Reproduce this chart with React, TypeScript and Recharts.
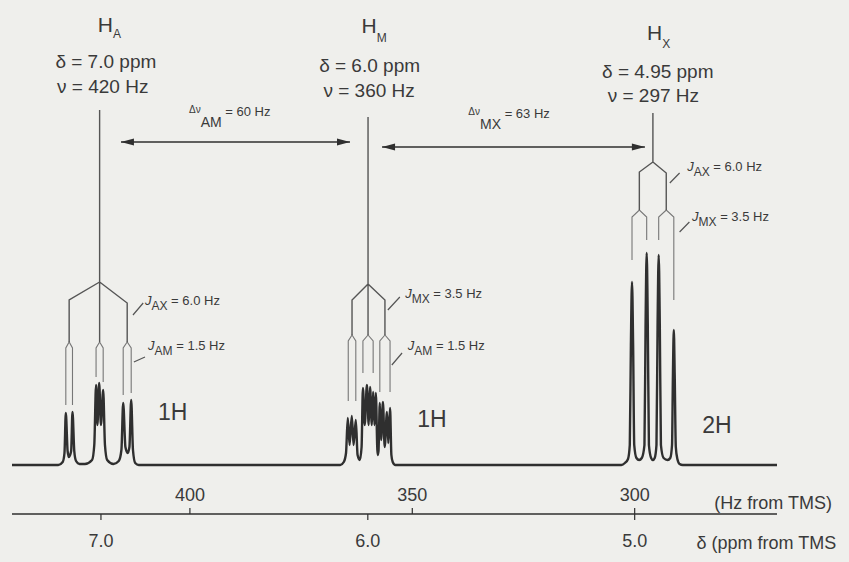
import { LineChart, Line, XAxis, YAxis, ReferenceDot } from "recharts"

const INK = "#2f2f2f"
const TREE = "#555"
const TEXT = "#3a3a3a"
const PAPER = "#efefec"
const FONT = "'Liberation Sans', Arial, sans-serif"

// spectrum: Hz from TMS vs. line height above the baseline
const hzA = [429.6, 428.6, 428.2, 427.9, 427.5, 427.2, 426.7, 426.4, 426.0, 425.6, 424.8, 423.6, 422.0, 421.5, 421.1, 420.8, 420.4, 420.0, 419.5, 419.1, 418.6, 417.2, 416.0, 415.4, 415.0, 414.5, 414.0, 413.6, 413.2, 412.8, 412.3, 411.5]
const intA = [0, 3, 12, 52, 14, 8, 14, 53, 14, 4, 1, 1, 5, 20, 80, 40, 82, 40, 75, 20, 5, 1, 4, 15, 62, 18, 12, 18, 65, 15, 2, 0]

const hzM = [366.2, 365.4, 364.9, 364.5, 364.1, 363.6, 363.2, 362.7, 362.3, 361.8, 361.4, 361.1, 360.7, 360.2, 359.8, 359.5, 359.1, 358.8, 358.5, 358.2, 357.8, 357.6, 357.3, 357.0, 356.6, 356.2, 355.7, 355.4, 355.0, 354.7, 354.4, 353.8]
const intM = [0, 3, 12, 47, 20, 49, 20, 45, 10, 5, 18, 77, 40, 80, 40, 78, 40, 73, 40, 72, 10, 14, 62, 25, 63, 18, 53, 22, 57, 10, 3, 0]

const hzX = [303.0, 302.2, 301.5, 301.1, 300.85, 300.6, 300.35, 300.1, 299.6, 299.0, 298.4, 297.8, 297.55, 297.3, 297.05, 296.8, 296.3, 295.9, 295.5, 295.1, 294.85, 294.6, 294.35, 294.1, 293.5, 292.6, 292.0, 291.6, 291.4, 291.2, 291.0, 290.75, 290.4, 289.9, 289.2]
const intX = [0, 2, 6, 20, 120, 183, 120, 20, 7, 5, 7, 20, 140, 212, 140, 20, 7, 5, 7, 20, 140, 210, 140, 20, 7, 5, 7, 20, 90, 135, 90, 18, 6, 1, 0]

const hzEnds = [440, 268]

// splitting trees [Hz, height]
const treeA = [
  [[420.3, 355], [420.3, 123]],
  [[420.3, 183], [427.15, 165], [427.15, 123]],
  [[420.3, 183], [414.1, 162], [414.1, 123]],
]
const leavesA = [
  [[427.9, 60], [427.9, 117], [427.15, 123], [426.4, 117], [426.4, 60]],
  [[421.1, 88], [421.1, 117], [420.3, 123], [419.5, 117], [419.5, 83]],
  [[415.0, 70], [415.0, 117], [414.1, 123], [413.2, 117], [413.2, 72]],
]
const treeM = [
  [[359.95, 348], [359.95, 130]],
  [[359.95, 181], [363.55, 165], [363.55, 130]],
  [[359.95, 181], [356.15, 165], [356.15, 130]],
]
const leavesM = [
  [[364.4, 64], [364.4, 124], [363.55, 130], [362.7, 124], [362.7, 64]],
  [[361.1, 92], [361.1, 124], [359.95, 130], [358.8, 124], [358.8, 92]],
  [[357.3, 73], [357.3, 124], [356.15, 130], [355.0, 124], [355.0, 73]],
]
const treeX = [
  [[295.9, 352], [295.9, 303]],
  [[295.9, 303], [298.95, 293], [298.95, 255]],
  [[295.9, 303], [292.9, 292], [292.9, 255]],
]
const leavesX = [
  [[300.6, 205], [300.6, 248], [298.95, 255], [297.3, 248], [297.3, 225]],
  [[294.6, 225], [294.6, 248], [292.9, 255], [291.2, 248], [291.2, 165]],
]
const leaders = [
  [[410.5, 162], [412.8, 150]],
  [[410.1, 108], [412.6, 103]],
  [[352.8, 168], [355.5, 155]],
  [[352.3, 112], [354.6, 100]],
  [[289.9, 292], [292.1, 282]],
  [[287.7, 243], [289.9, 233]],
]

// chemical shift differences
const arrowAM = [[415.5, 323], [364.0, 323]]
const arrowMX = [[356.8, 318], [297.7, 318]]

const hzTicks = [400, 350, 300]
const ppmTicks = [420, 360, 300] // 7.0, 6.0, 5.0 ppm (60 MHz)
const allTicks = [420, 400, 360, 350, 300]

const spectrum = [
  { hz: hzEnds[0], v: 0 },
  ...hzA.map((hz, i) => ({ hz, v: intA[i] })),
  ...hzM.map((hz, i) => ({ hz, v: intM[i] })),
  ...hzX.map((hz, i) => ({ hz, v: intX[i] })),
  { hz: hzEnds[1], v: 0 },
]

const toRows = (lines: number[][][]) =>
  lines.flatMap((pts, i) => {
    const rows = pts.map(([hz, v]) => ({ hz, v }))
    return i < lines.length - 1 ? [...rows, { hz: pts[pts.length - 1][0], v: null }] : rows
  })

const treeRows = toRows([...treeA, ...treeM, ...treeX])
const leafRows = toRows([...leavesA, ...leavesM, ...leavesX])
const leaderRows = toRows(leaders)
const toArrow = (a: number[][]) => a.map(([hz, v]) => ({ hz, v }))

// Hz ticks point up with labels above the line, ppm ticks point down with labels below
function ScaleTick({ x, y, payload }: any) {
  const v = payload.value
  return (
    <g>
      {hzTicks.includes(v) && (
        <g>
          <line x1={x} x2={x} y1={y} y2={y - 6} stroke={INK} strokeWidth={1.2} />
          <text x={x} y={y - 13} textAnchor="middle" fontSize={18} fill={TEXT}>{v}</text>
        </g>
      )}
      {ppmTicks.includes(v) && (
        <g>
          <line x1={x} x2={x} y1={y} y2={y + 6} stroke={INK} strokeWidth={1.2} />
          <text x={x} y={y + 33} textAnchor="middle" fontSize={18} fill={TEXT}>{(v / 60).toFixed(1)}</text>
        </g>
      )}
    </g>
  )
}

function arrowHead(p: any) {
  const { cx, cy, index } = p
  const d = index === 0 ? 1 : -1
  return (
    <path
      key={`ah-${index}-${cx}`}
      d={`M${cx},${cy} L${cx + d * 13},${cy - 3.5} L${cx + d * 13},${cy + 3.5} Z`}
      fill={INK}
    />
  )
}

function note(key: string, hz: number, v: number, draw: (x: number, y: number) => any) {
  return (
    <ReferenceDot
      key={key}
      x={hz}
      y={v}
      ifOverflow="visible"
      shape={(p: any) => <g>{draw(p.cx, p.cy)}</g>}
    />
  )
}

const title = (sym: string, sub: string, dy: number) => (x: number, y: number) => (
  <text x={x} y={y} textAnchor="middle" fontSize={21} fill={TEXT}>
    {sym}
    <tspan fontSize={12} dy={dy}>{sub}</tspan>
  </text>
)

const line = (s: string) => (x: number, y: number) => (
  <text x={x} y={y} textAnchor="middle" fontSize={19} fill={TEXT}>{s}</text>
)

const jLabel = (sub: string, rest: string) => (x: number, y: number) => (
  <text x={x} y={y} fontSize={13} fill={TEXT}>
    <tspan fontStyle="italic">J</tspan>
    <tspan fontSize={12} dy={5}>{sub}</tspan>
    <tspan dy={-5}>{rest}</tspan>
  </text>
)

const dLabel = (sub: string, rest: string) => (x: number, y: number) => (
  <text x={x} y={y} fontSize={10} fill={TEXT}>
    {"Δν"}
    <tspan fontSize={14} dy={14}>{sub}</tspan>
    <tspan fontSize={13} dy={-11}>{rest}</tspan>
  </text>
)

const big = (s: string, size = 23) => (x: number, y: number) => (
  <text x={x} y={y} fontSize={size} fill={TEXT}>{s}</text>
)

export default function App() {
  return (
    <div style={{ position: "absolute", left: 0, top: 0, width: 849, height: 562, background: PAPER, fontFamily: FONT }}>
      <LineChart width={849} height={562} margin={{ top: 0, right: 72, bottom: 8, left: 12 }}>
        <XAxis
          dataKey="hz"
          type="number"
          domain={[268, 440]}
          reversed
          allowDataOverflow
          ticks={allTicks}
          interval={0}
          height={40}
          tickSize={0}
          tickMargin={0}
          axisLine={{ stroke: INK, strokeWidth: 1.3 }}
          tickLine={false}
          tick={(p: any) => <ScaleTick {...p} />}
        />
        <YAxis hide type="number" domain={[-49, 465]} allowDataOverflow />

        <Line data={leafRows} dataKey="v" type="linear" stroke="#777" strokeWidth={1.1} dot={false} connectNulls={false} isAnimationActive={false} />
        <Line data={treeRows} dataKey="v" type="linear" stroke={TREE} strokeWidth={1.4} dot={false} connectNulls={false} isAnimationActive={false} />
        <Line data={leaderRows} dataKey="v" type="linear" stroke={TREE} strokeWidth={1.2} dot={false} connectNulls={false} isAnimationActive={false} />
        <Line data={toArrow(arrowAM)} dataKey="v" type="linear" stroke={INK} strokeWidth={1.5} dot={arrowHead} isAnimationActive={false} />
        <Line data={toArrow(arrowMX)} dataKey="v" type="linear" stroke={INK} strokeWidth={1.5} dot={arrowHead} isAnimationActive={false} />
        <Line data={spectrum} dataKey="v" type="monotoneX" stroke={INK} strokeWidth={2.4} dot={false} isAnimationActive={false} />

        {note("tA", 418.1, 433, title("H", "A", 6))}
        {note("dA", 418.9, 397, line("δ = 7.0 ppm"))}
        {note("nA", 419.6, 372, line("ν = 420 Hz"))}
        {note("tM", 358.6, 432, title("H", "M", 9))}
        {note("dM", 359.6, 393, line("δ = 6.0 ppm"))}
        {note("nM", 359.7, 368, line("ν = 360 Hz"))}
        {note("tX", 294.6, 425, title("H", "X", 8))}
        {note("dX", 294.8, 387, line("δ = 4.95 ppm"))}
        {note("nX", 295.8, 363, line("ν = 297 Hz"))}

        {note("dAM", 400.2, 352, dLabel("AM", " = 60 Hz"))}
        {note("dMX", 337.4, 350, dLabel("MX", " = 63 Hz"))}

        {note("jA1", 410.1, 160, jLabel("AX", " = 6.0 Hz"))}
        {note("jA2", 409.4, 115, jLabel("AM", " = 1.5 Hz"))}
        {note("jM1", 351.6, 167, jLabel("MX", " = 3.5 Hz"))}
        {note("jM2", 351.0, 115, jLabel("AM", " = 1.5 Hz"))}
        {note("jX1", 288.2, 294, jLabel("AX", " = 6.0 Hz"))}
        {note("jX2", 287.1, 244, jLabel("MX", " = 3.5 Hz"))}

        {note("iA", 407.2, 45, big("1H"))}
        {note("iM", 348.9, 38, big("1H"))}
        {note("iX", 284.8, 32, big("2H"))}

        {note("axHz", 282.1, -44, big("(Hz from TMS)", 18))}
        {note("axPpm", 286.1, -84, big("δ (ppm from TMS", 18))}
      </LineChart>
    </div>
  )
}
